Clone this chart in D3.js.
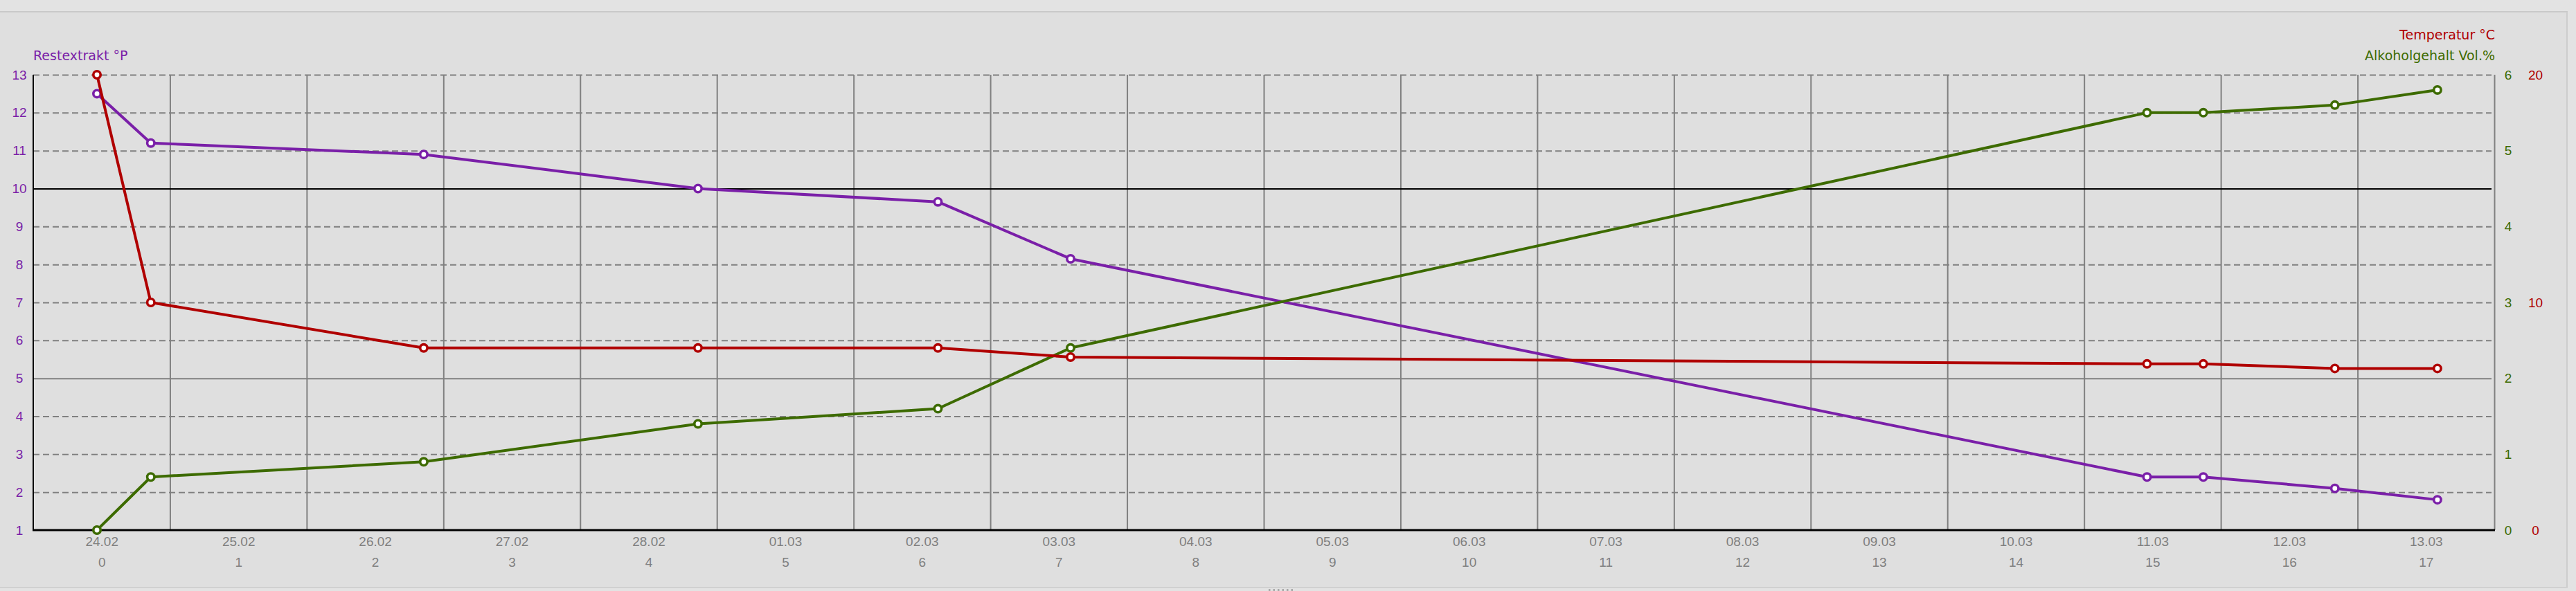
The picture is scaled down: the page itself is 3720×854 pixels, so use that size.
<!DOCTYPE html>
<html>
<head>
<meta charset="utf-8">
<title>Gärverlauf</title>
<script src="https://cdn.jsdelivr.net/npm/d3@7"></script>
<style>
    html, body { margin: 0; padding: 0; background: #e3e3e3; }
    svg { display: block; font-family: "DejaVu Sans", sans-serif; }
</style>
</head>
<body>
<svg width="3720" height="854"></svg>
<script>
// Tage seit Anstellen (Bruchteile = Uhrzeit der Messung)
var days = [0.466, 0.860, 2.856, 4.862, 6.617, 7.587, 15.46, 15.872, 16.834, 17.584];
var extrakt = [12.5, 11.2, 10.9, 10.0, 9.65, 8.15, 2.4, 2.4, 2.1, 1.8];
var temperatur = [20, 10, 8, 8, 8, 7.6, 7.3, 7.3, 7.1, 7.1];
var alkohol = [0, 0.7, 0.9, 1.4, 1.6, 2.4, 5.5, 5.5, 5.6, 5.8];

var dateLabels = ["24.02", "25.02", "26.02", "27.02", "28.02", "01.03", "02.03", "03.03", "04.03",
    "05.03", "06.03", "07.03", "08.03", "09.03", "10.03", "11.03", "12.03", "13.03"];
var extraktTicks = [1, 2, 3, 4, 5, 6, 7, 8, 9, 10, 11, 12, 13];
var alkoholTicks = [0, 1, 2, 3, 4, 5, 6];
var temperaturTicks = [0, 10, 20];

var purple = "#7a1fa8",
    red = "#b00000",
    green = "#3d6b00",
    grey = "#808080";

var loadVis = function() {

    var svg = d3.select("svg");

    var left = 48, right = 3602, top = 108, bottom = 766;
    var fmt = d3.format("d");

    // panel
    svg.append("rect")
        .attr("x", 0).attr("y", 17)
        .attr("width", 3707).attr("height", 832)
        .attr("fill", "#dfdfdf");
    svg.append("line").attr("x1", 0).attr("x2", 3708).attr("y1", 17).attr("y2", 17)
        .attr("stroke", "#c9c9c9").attr("stroke-width", 2);
    svg.append("line").attr("x1", 3707).attr("x2", 3707).attr("y1", 17).attr("y2", 850)
        .attr("stroke", "#cdcdcd").attr("stroke-width", 2);
    svg.append("line").attr("x1", 0).attr("x2", 3708).attr("y1", 849).attr("y2", 849)
        .attr("stroke", "#d0d0d0").attr("stroke-width", 2);
    svg.append("g").selectAll("rect")
        .data(d3.range(6)).enter().append("rect")
            .attr("x", function(d) { return 1832 + d * 6.5; })
            .attr("y", 851).attr("width", 2.5).attr("height", 3)
            .attr("fill", "#a8a8a8");

    var x = d3.scaleLinear().domain([0, dateLabels.length]).range([left, right]);
    var y = d3.scaleLinear().domain([1, 13]).range([bottom, top]);
    var yTemp = d3.scaleLinear().domain([0, 20]).range([bottom, top]);
    var yAlk = d3.scaleLinear().domain([0, 6]).range([bottom, top]);

    // vertical grid at day boundaries
    svg.append("g")
        .attr("transform", "translate(0," + top + ")")
        .call(d3.axisBottom(x).tickValues(d3.range(1, dateLabels.length + 1)).tickSize(bottom - top).tickFormat(""))
        .call(function(g) { g.select(".domain").remove(); })
        .selectAll("line")
            .attr("stroke", grey).attr("stroke-width", 2);

    // horizontal grid
    svg.append("g")
        .attr("transform", "translate(" + left + ",0)")
        .call(d3.axisRight(y).tickValues(extraktTicks.slice(1)).tickSize(right - left - 4).tickFormat(""))
        .call(function(g) { g.select(".domain").remove(); })
        .selectAll("line")
            .attr("stroke", function(d) { return d === 10 ? "#000" : grey; })
            .attr("stroke-width", 2)
            .attr("stroke-dasharray", function(d) { return (d === 10 || d === 5) ? null : "9,5"; });

    // frame
    svg.append("line").attr("x1", left).attr("x2", left).attr("y1", top).attr("y2", bottom + 1)
        .attr("stroke", "#000").attr("stroke-width", 2);
    svg.append("line").attr("x1", left - 1).attr("x2", right + 1).attr("y1", bottom).attr("y2", bottom)
        .attr("stroke", "#000").attr("stroke-width", 3);

    // left axis (Restextrakt)
    var axLeft = svg.append("g")
        .attr("transform", "translate(" + left + ",0)")
        .call(d3.axisLeft(y).tickValues(extraktTicks).tickSize(0).tickFormat(fmt));
    axLeft.select(".domain").remove();
    axLeft.selectAll("text")
        .attr("x", -20).attr("text-anchor", "middle")
        .attr("fill", purple).style("font-size", "19px");

    // right axes
    var axAlk = svg.append("g")
        .attr("transform", "translate(" + right + ",0)")
        .call(d3.axisRight(yAlk).tickValues(alkoholTicks).tickSize(0).tickFormat(fmt));
    axAlk.select(".domain").remove();
    axAlk.selectAll("text")
        .attr("x", 20).attr("text-anchor", "middle")
        .attr("fill", green).style("font-size", "19px");

    var axTemp = svg.append("g")
        .attr("transform", "translate(" + right + ",0)")
        .call(d3.axisRight(yTemp).tickValues(temperaturTicks).tickSize(0).tickFormat(fmt));
    axTemp.select(".domain").remove();
    axTemp.selectAll("text")
        .attr("x", 59.5).attr("text-anchor", "middle")
        .attr("fill", red).style("font-size", "19px");

    // bottom axis: date and day number
    var centers = d3.range(dateLabels.length).map(function(i) { return i + 0.5; });
    var axDate = svg.append("g")
        .attr("transform", "translate(0," + bottom + ")")
        .call(d3.axisBottom(x).tickValues(centers).tickSize(0)
            .tickFormat(function(d) { return dateLabels[Math.floor(d)]; }));
    axDate.select(".domain").remove();
    axDate.selectAll("text")
        .attr("y", 23).attr("dy", 0)
        .attr("fill", grey).style("font-size", "19px");

    var axDay = svg.append("g")
        .attr("transform", "translate(0," + bottom + ")")
        .call(d3.axisBottom(x).tickValues(centers).tickSize(0)
            .tickFormat(function(d) { return Math.floor(d); }));
    axDay.select(".domain").remove();
    axDay.selectAll("text")
        .attr("y", 53).attr("dy", 0)
        .attr("fill", grey).style("font-size", "19px");

    // axis titles
    svg.append("text")
        .attr("x", left).attr("y", 87)
        .attr("fill", purple).style("font-size", "19px")
        .text("Restextrakt °P");
    svg.append("text")
        .attr("x", right + 1).attr("y", 57).attr("text-anchor", "end")
        .attr("fill", red).style("font-size", "19px")
        .text("Temperatur °C");
    svg.append("text")
        .attr("x", right + 1).attr("y", 87).attr("text-anchor", "end")
        .attr("fill", green).style("font-size", "19px")
        .text("Alkoholgehalt Vol.%");

    // series
    var series = [
        { values: extrakt, scale: y, color: purple },
        { values: alkohol, scale: yAlk, color: green },
        { values: temperatur, scale: yTemp, color: red }
    ];

    series.forEach(function(s) {
        var pts = days.map(function(d, i) { return [d, s.values[i]]; });
        var line = d3.line()
            .x(function(p) { return x(p[0]); })
            .y(function(p) { return s.scale(p[1]); });

        var g = svg.append("g");
        g.append("path")
            .datum(pts)
            .attr("d", line)
            .attr("fill", "none")
            .attr("stroke", s.color)
            .attr("stroke-width", 4)
            .attr("stroke-linejoin", "round");
        g.selectAll("circle")
            .data(pts).enter()
            .append("circle")
                .attr("cx", function(p) { return x(p[0]); })
                .attr("cy", function(p) { return s.scale(p[1]); })
                .attr("r", 5.2)
                .attr("fill", "#fff")
                .attr("stroke", s.color)
                .attr("stroke-width", 3.6);
    });
}

document.addEventListener('DOMContentLoaded', loadVis, false);
</script>
</body>
</html>
